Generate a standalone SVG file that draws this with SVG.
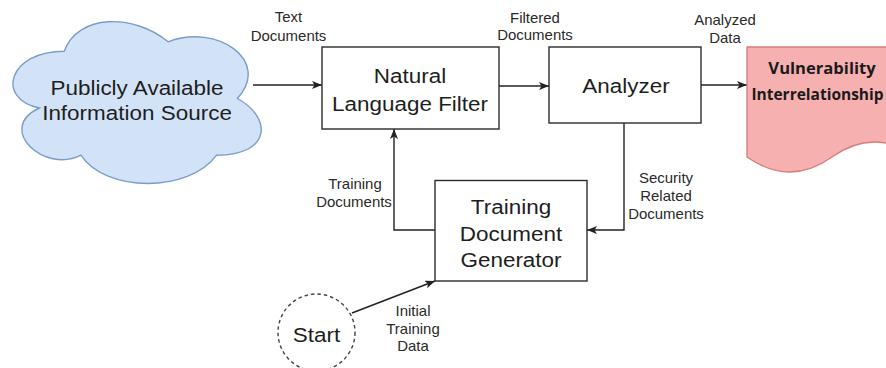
<svg xmlns="http://www.w3.org/2000/svg" width="886" height="368" viewBox="0 0 886 368">
  <style>
    .box { fill: #ffffff; stroke: #2b2b2b; stroke-width: 1.4; }
    .cloud { fill: #d3e3f7; stroke: #7b9cc9; stroke-width: 1.4; }
    .doc { fill: #f7b0b0; stroke: #d77c7c; stroke-width: 1.3; }
    .start { fill: #ffffff; stroke: #444; stroke-width: 1.4; stroke-dasharray: 3.5 3; }
    .edge { fill: none; stroke: #222; stroke-width: 1.4; }
    .big { font-family: "Liberation Sans", Arial, Helvetica, sans-serif; font-size: 21px; fill: #1e1e1e; text-anchor: middle; }
    .lbl { font-family: "Liberation Sans", Arial, Helvetica, sans-serif; font-size: 14px; fill: #2a2a2a; text-anchor: middle; }
    .bold { font-family: "Open Sans", "Liberation Sans", sans-serif; font-size: 15.5px; font-weight: bold; fill: #1a1a1a; text-anchor: middle; }
  </style>
  <defs>
    <marker id="arrow" viewBox="0 0 10 8" refX="10" refY="4" markerWidth="10" markerHeight="8" markerUnits="userSpaceOnUse" orient="auto">
      <path d="M0,0 L10,4 L0,8 L2.5,4 Z" fill="#222"/>
    </marker>
  </defs>

  <!-- connectors -->
  <g id="connectors">
    <path class="edge" d="M253,85 H322" marker-end="url(#arrow)"/>
    <path class="edge" d="M499,86 H549" marker-end="url(#arrow)"/>
    <path class="edge" d="M701,85 H747" marker-end="url(#arrow)"/>
    <path class="edge" d="M624,123 V230 H587" marker-end="url(#arrow)"/>
    <path class="edge" d="M435,230 H394 V129" marker-end="url(#arrow)"/>
    <path class="edge" d="M352,313 L435,281" marker-end="url(#arrow)"/>
  </g>

  <!-- edge labels -->
  <g id="edge-labels">
    <text class="lbl" transform="translate(288.5 21.7) scale(1.07 1)">Text</text>
    <text class="lbl" transform="translate(288.5 40.5) scale(1.07 1)">Documents</text>
    <text class="lbl" transform="translate(535 22.5) scale(1.07 1)">Filtered</text>
    <text class="lbl" transform="translate(535 40) scale(1.07 1)">Documents</text>
    <text class="lbl" transform="translate(725 24.5) scale(1.07 1)">Analyzed</text>
    <text class="lbl" transform="translate(725 42.5) scale(1.07 1)">Data</text>
    <text class="lbl" transform="translate(355 189) scale(1.07 1)">Training</text>
    <text class="lbl" transform="translate(354 207.3) scale(1.07 1)">Documents</text>
    <text class="lbl" transform="translate(666 183) scale(1.07 1)">Security</text>
    <text class="lbl" transform="translate(666 201) scale(1.07 1)">Related</text>
    <text class="lbl" transform="translate(666 219) scale(1.07 1)">Documents</text>
    <text class="lbl" transform="translate(413 315.5) scale(1.07 1)">Initial</text>
    <text class="lbl" transform="translate(413 333.5) scale(1.07 1)">Training</text>
    <text class="lbl" transform="translate(413 351) scale(1.07 1)">Data</text>
  </g>

  <!-- source cloud -->
  <g id="source">
    <path class="cloud" d="M64.2,51.2 C8.9,51.2 -5,98.5 39.3,108 C-5,128.7 44.9,174.1 80.9,155.2 C105.8,193 188.9,193 216.6,155.2 C272,155.2 272,117.4 237.4,98.5 C272,60.7 216.6,22.9 168.1,41.8 C133.5,13.5 78.1,13.5 64.2,51.2 Z"/>
    <text class="big" transform="translate(137 95) scale(1.07 1)">Publicly Available</text>
    <text class="big" transform="translate(137 120) scale(1.07 1)">Information Source</text>
  </g>

  <!-- natural language filter -->
  <g id="nl-filter">
    <rect class="box" x="322" y="47" width="177" height="82"/>
    <text class="big" transform="translate(410 83.3) scale(1.07 1)">Natural</text>
    <text class="big" transform="translate(410 111) scale(1.07 1)">Language Filter</text>
  </g>

  <!-- analyzer -->
  <g id="analyzer">
    <rect class="box" x="549" y="47" width="152" height="76"/>
    <text class="big" transform="translate(626 93) scale(1.07 1)">Analyzer</text>
  </g>

  <!-- output document -->
  <g id="vulnerability">
    <path class="doc" d="M747,47 H917 V157 Q874,127 832,157 Q790,187 747,157 Z"/>
    <text class="bold" transform="translate(822 74.3) scale(1.07 1)">Vulnerability</text>
    <text class="bold" transform="translate(817.5 100)">Interrelationship</text>
  </g>

  <!-- training document generator -->
  <g id="generator">
    <rect class="box" x="435" y="180.5" width="152" height="100.5"/>
    <text class="big" transform="translate(511 214) scale(1.07 1)">Training</text>
    <text class="big" transform="translate(511 240.5) scale(1.07 1)">Document</text>
    <text class="big" transform="translate(511 267) scale(1.07 1)">Generator</text>
  </g>

  <!-- start -->
  <g id="start">
    <circle class="start" cx="316.5" cy="332.5" r="38.5"/>
    <text class="big" transform="translate(316.5 341.5) scale(1.07 1)">Start</text>
  </g>
</svg>
